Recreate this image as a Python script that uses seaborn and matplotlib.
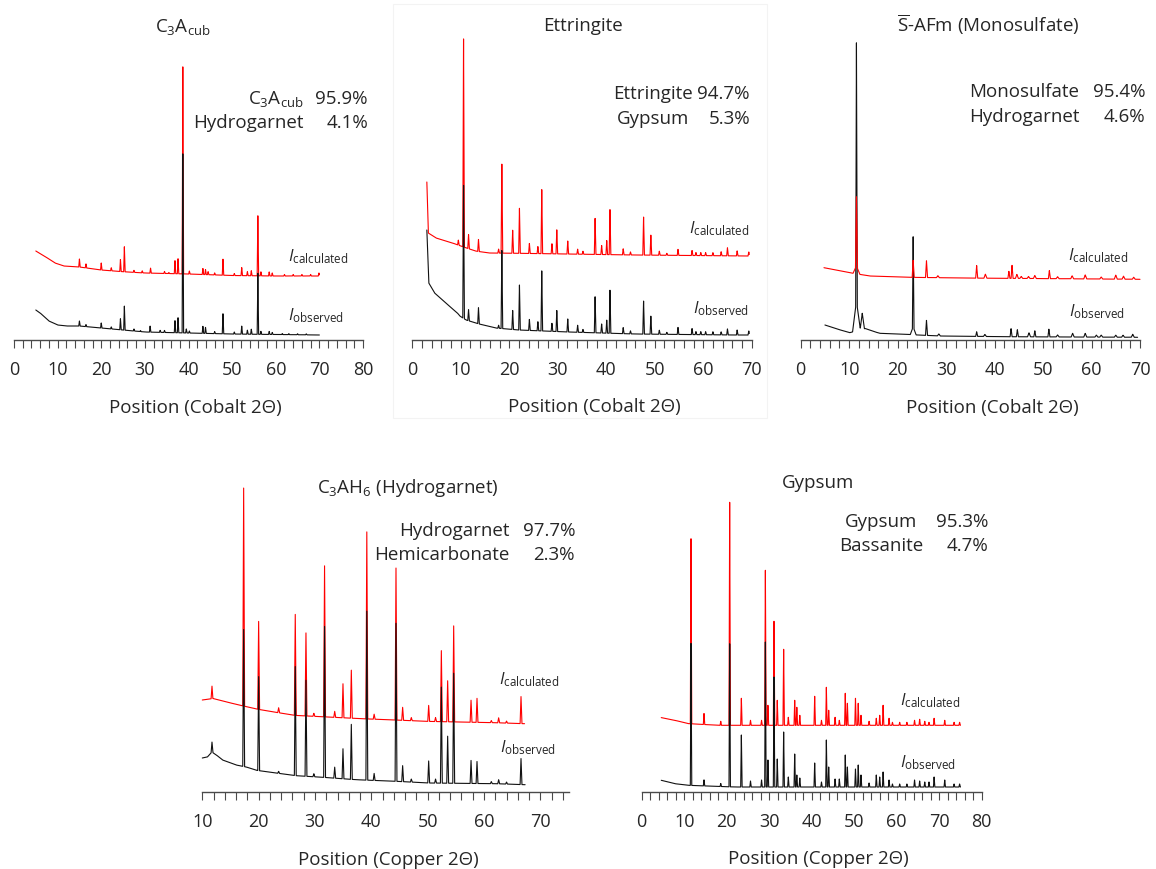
import numpy as np
import matplotlib
matplotlib.use("Agg")
import matplotlib.pyplot as plt
from matplotlib.patches import Rectangle
from matplotlib.ticker import MultipleLocator
import seaborn as sns

# ---------------------------------------------------------------------------
# Diffraction data: backgrounds (anchor points) and peak lists (position, net
# intensity) for observed and Rietveld-calculated patterns of each phase.
# ---------------------------------------------------------------------------

# C3A cubic (Cobalt)
c3a_obs_bg_x = [5, 6, 7, 8, 10, 12, 15, 20, 25, 30, 40, 50, 60, 70]
c3a_obs_bg_y = [30, 27, 23, 19, 15, 14, 14, 12, 10, 8, 7, 6, 5.5, 5]
c3a_obs_pk_x = [15.0, 16.5, 20.0, 22.3, 24.4, 25.3, 27.5, 29.0, 31.2, 33.5, 34.5, 36.9, 37.6,
                38.7, 39.5, 40.2, 43.3, 43.9, 46.0, 47.9, 50.5, 52.2, 53.5, 54.4, 55.9, 56.6,
                58.5, 59.2, 61.5, 63.0, 65.0, 67.0]
c3a_obs_pk_h = [5, 2, 5, 2, 11, 24, 2, 1, 6, 2, 2, 12, 15, 179, 4, 2, 7, 6, 2, 20, 2, 8, 4, 5,
                61, 3, 3, 2, 1, 1, 1, 1]
c3a_calc_bg_x = [5, 7.2, 9.4, 11.4, 15, 20, 25, 30, 40, 50, 60, 70]
c3a_calc_bg_y = [29, 23.3, 17, 14, 13, 10, 8.3, 7, 6, 4.5, 4, 4]
c3a_calc_pk_x = [15.0, 16.5, 20.0, 22.3, 24.4, 25.3, 27.5, 29.4, 31.3, 34.5, 35.5, 36.9, 37.6,
                 38.7, 40.2, 43.3, 43.9, 44.5, 46.0, 47.9, 50.5, 52.2, 53.5, 54.4, 55.9, 56.6,
                 58.5, 59.2, 62.0, 64.0, 66.0, 68.0, 69.9]
c3a_calc_pk_h = [8, 4, 7, 3, 12, 25, 2, 2, 5, 2, 1, 13, 15, 207, 3, 6, 5, 3, 2, 16, 2, 8, 4, 5,
                 60, 4, 4, 3, 1.5, 1.5, 1.5, 1.5, 3]

# Ettringite (Cobalt)
ett_obs_bg_x = [3.0, 3.4, 4.6, 6.9, 9.3, 9.8, 11.1, 13.8, 17.2, 22.0, 32.3, 46.0, 66.6, 69.5]
ett_obs_bg_y = [110, 57, 47, 37, 27, 24, 20, 16, 12, 10, 8, 6, 5, 5]
ett_obs_pk_x = [10.57, 11.6, 13.65, 17.8, 18.47, 20.7, 22.1, 24.15, 25.9, 26.7, 28.8, 29.8,
                32.06, 34.1, 35.2, 37.7, 39.05, 40.1, 40.77, 43.5, 45.0, 47.7, 49.2, 50.95,
                52.5, 54.8, 57.7, 58.5, 59.5, 60.5, 62.0, 63.7, 65.0, 67.0, 69.4]
ett_obs_pk_h = [133, 11, 16, 3, 78, 19, 45, 11, 9, 60, 8, 21, 13, 7, 3, 36, 9, 13, 43, 6, 3,
                33, 18, 4, 2, 7, 6, 3, 3, 3, 3, 3, 6, 5, 4]
ett_calc_bg_x = [3.0, 3.3, 4.9, 8.3, 10.0, 13.0, 15.8, 22.0, 46.0, 69.5]
ett_calc_bg_y = [78, 27, 22, 17, 14, 9, 7, 6.7, 5, 4]
ett_calc_pk_x = [9.5, 10.57, 11.6, 13.65, 17.8, 18.47, 20.7, 22.1, 24.15, 25.9, 26.7, 28.8,
                 29.8, 32.06, 34.1, 35.2, 37.7, 39.05, 40.1, 40.77, 43.5, 45.0, 47.7, 49.2,
                 50.95, 52.5, 54.8, 57.7, 58.5, 59.5, 60.5, 62.0, 63.7, 65.0, 67.0, 69.4]
ett_calc_pk_h = [5, 208, 14, 12, 4, 89, 23, 45, 10, 7, 64, 10, 24, 13, 5, 3, 36, 9, 14, 45, 6,
                 3, 38, 20, 4, 2, 6, 5, 3, 3, 3, 3, 4, 8, 5, 4]

# Monosulfate (Cobalt) - broad basal reflections carry their own widths
msf_obs_bg_x = [5.0, 7.5, 10.1, 13.3, 15.2, 16.3, 21.1, 28.7, 42.5, 69.5]
msf_obs_bg_y = [15, 11, 7.3, 11.5, 8.3, 6.7, 5.7, 4, 3.3, 2.7]
msf_obs_pk_x = [11.5, 11.5, 12.7, 23.2, 23.2, 25.95, 28.5, 36.3, 38.0, 43.4, 44.7, 47.1, 48.3,
                51.2, 53.0, 56.1, 58.7, 61.0, 62.0, 65.0, 66.5, 68.5]
msf_obs_pk_h = [258, 30, 16, 90, 8, 15, 2, 4.6, 2, 8, 7, 4, 6, 7.7, 2, 3.7, 3.7, 2, 2, 2, 2, 3]
msf_obs_pk_w = [0.16, 0.8, 0.45, 0.16, 0.6, 0.2, 0.3, 0.2, 0.3, 0.2, 0.2, 0.3, 0.2, 0.2,
                0.3, 0.3, 0.3, 0.3, 0.3, 0.3, 0.3, 0.3]
msf_calc_bg_x = [4.8, 10.1, 14.2, 22.5, 33.0, 70.0]
msf_calc_bg_y = [14.3, 9.3, 6, 4.7, 4, 2.7]
msf_calc_pk_x = [11.5, 11.5, 23.2, 25.95, 28.3, 36.3, 38.1, 42.95, 43.6, 44.6, 45.5, 47.0,
                 48.3, 51.3, 53.0, 56.0, 58.7, 62.0, 65.0, 66.6, 68.7]
msf_calc_pk_h = [69, 8, 17, 16.7, 2, 12.5, 4, 7, 13, 4, 2, 2, 3, 8, 2, 3, 4, 2, 4, 3, 2]
msf_calc_pk_w = [0.2, 0.7, 0.2, 0.2, 0.3, 0.2, 0.3, 0.2, 0.2, 0.3, 0.3, 0.3, 0.3, 0.2,
                 0.3, 0.3, 0.3, 0.3, 0.3, 0.3, 0.3]

# Hydrogarnet C3AH6 (Copper)
hgt_obs_bg_x = [10.0, 10.9, 11.7, 12.5, 13.6, 16.0, 17.8, 19.6, 23.1, 26.7, 31.4, 37.3, 44.4,
                50.3, 62.2, 67.3]
hgt_obs_bg_y = [34, 35, 40, 37, 32, 27, 25, 21.7, 19, 16.3, 14.7, 12.3, 10.7, 9, 8.3, 7.3]
hgt_pk_x = [11.72, 17.34, 20.0, 23.55, 26.5, 28.4, 29.8, 31.7, 33.5, 34.97, 36.45, 39.2, 40.5,
            44.38, 45.56, 47.1, 50.18, 51.4, 52.43, 53.55, 54.62, 57.7, 58.76, 61.3, 62.6,
            64.0, 66.57]
hgt_obs_pk_h = [10, 137, 94, 2, 109, 96, 3, 151, 11, 30, 55, 169, 7, 158, 16, 3, 22, 4, 96, 47,
                110, 23, 22, 2, 4, 2, 26]
hgt_calc_bg_x = [10.0, 11.9, 14.3, 17.3, 20.0, 23.5, 26.5, 31.2, 38.3, 44.2, 50.2, 62.0, 67.2]
hgt_calc_bg_y = [32, 33.5, 30, 26, 22.6, 19.3, 16.6, 15.3, 13.3, 12, 10.6, 9.3, 8.3]
hgt_calc_pk_h = [12.5, 218, 88, 5, 101, 83, 3, 151, 6, 34, 48, 187, 5, 152, 13, 3, 16, 4, 71,
                 41, 96, 22, 24, 2, 5, 2, 27]

# Gypsum (Copper)
gyp_pk_x = [11.6, 14.66, 18.6, 20.7, 23.45, 25.6, 28.2, 29.1, 29.7, 31.13, 31.9, 33.4, 34.5,
            36.0, 36.5, 37.2, 40.7, 42.3, 43.45, 44.0, 45.5, 46.5, 47.9, 48.4, 50.3, 50.95,
            51.6, 53.5, 55.2, 56.0, 56.8, 58.2, 59.0, 60.7, 62.4, 64.2, 65.4, 66.6, 67.6, 68.8,
            71.3, 73.5, 74.8]
gyp_obs_pk_h = [142, 6, 3, 143, 52, 6, 7, 145, 27, 110, 28, 55, 10, 33, 12, 9, 24, 5, 47, 20, 8,
                8, 32, 20, 18, 22, 12, 4, 12, 10, 15, 7, 3, 3, 3, 7, 6, 5, 5, 10, 7, 3, 3]
gyp_calc_pk_h = [185, 11, 4, 223, 27, 5, 5, 155, 20, 104, 25, 76, 8, 25, 18, 10, 29, 5, 38, 15,
                 8, 5, 32, 22, 27, 22, 10, 4, 7, 10, 20, 7, 3, 3, 3, 5, 6, 4, 3, 7, 5, 3, 3]
gyp_obs_bg_x = [4.6, 7.8, 10.9, 21.9, 75.0]
gyp_obs_bg_y = [11.7, 8.3, 6.7, 5, 5]
gyp_calc_bg_x = [4.6, 7.8, 10.9, 18.0, 75.0]
gyp_calc_bg_y = [12.4, 9.7, 6.4, 4.7, 4.7]

# Phase names, quantification results and axis titles
titles = [r"C$_3$A$_{\mathrm{cub}}$", "Ettringite", r"$\overline{\mathrm{S}}$-AFm (Monosulfate)",
          r"C$_3$AH$_6$ (Hydrogarnet)", "Gypsum"]
phase_names = [[r"C$_3$A$_{\mathrm{cub}}$", "Hydrogarnet"], ["Ettringite", "Gypsum"],
               ["Monosulfate", "Hydrogarnet"], ["Hydrogarnet", "Hemicarbonate"],
               ["Gypsum", "Bassanite"]]
phase_pct = [["95.9%", "4.1%"], ["94.7%", "5.3%"], ["95.4%", "4.6%"], ["97.7%", "2.3%"],
             ["95.3%", "4.7%"]]
xlabels = ["Position (Cobalt 2Θ)"] * 3 + ["Position (Copper 2Θ)"] * 2

# ---------------------------------------------------------------------------
sns.set_theme(style="white")
plt.rcParams["font.family"] = ["Open Sans", "DejaVu Sans"]
plt.rcParams["mathtext.fontset"] = "custom"
plt.rcParams["mathtext.rm"] = "Open Sans"
plt.rcParams["mathtext.it"] = "Open Sans:italic"
plt.rcParams["mathtext.bf"] = "Open Sans:bold"

W, H = 1156, 869
fig = plt.figure(figsize=(W / 100, H / 100), dpi=100)
fig.patch.set_facecolor("white")

TXT = "#262626"
OBS_C = "#111111"
CALC_C = "#ff0000"
PEAK_HW = 0.16


def profile(bx, by, pk_x, pk_h, pk_w=None, step=0.01):
    grid = np.arange(bx[0], bx[-1] + step / 2, step)
    y = np.interp(grid, bx, by)
    widths = np.full(len(pk_x), PEAK_HW) if pk_w is None else np.asarray(pk_w, float)
    for p, h, w in zip(pk_x, pk_h, widths):
        y = y + h * np.clip(1 - np.abs(grid - p) / w, 0, None)
    return grid, y


def ftext(xp, yp, s, ha="center", size=13.5, **kw):
    fig.text(xp / W, 1 - yp / H, s, ha=ha, va="baseline", fontsize=size, color=TXT, **kw)


panels = [
    dict(px=(14, 363), xr=(0, 80), axis_y=340, ticks=range(0, 81, 10), offset=60, calc_top=False,
         obs=(c3a_obs_bg_x, c3a_obs_bg_y, c3a_obs_pk_x, c3a_obs_pk_h, None),
         calc=(c3a_calc_bg_x, c3a_calc_bg_y, c3a_calc_pk_x, c3a_calc_pk_h, None),
         title=(183, 31.7), xlabel=(195, 413), rows=(104, 128.3),
         names=("right", 304), vals=368, icalc=(288, 261), iobs=(288, 320)),
    dict(px=(412.3, 751.7), xr=(0, 70), axis_y=340, ticks=range(0, 71, 10), offset=80,
         calc_top=False,
         obs=(ett_obs_bg_x, ett_obs_bg_y, ett_obs_pk_x, ett_obs_pk_h, None),
         calc=(ett_calc_bg_x, ett_calc_bg_y, ett_calc_pk_x, ett_calc_pk_h, None),
         title=(583, 30.7), xlabel=(594, 412), rows=(99.3, 124),
         names=("center", 653), vals=750, icalc=(689, 233), iobs=(693, 313)),
    dict(px=(800.7, 1140), xr=(0, 70), axis_y=340, ticks=range(0, 71, 10), offset=58,
         calc_top=True,
         obs=(msf_obs_bg_x, msf_obs_bg_y, msf_obs_pk_x, msf_obs_pk_h, msf_obs_pk_w),
         calc=(msf_calc_bg_x, msf_calc_bg_y, msf_calc_pk_x, msf_calc_pk_h, msf_calc_pk_w),
         title=(988, 31.7), xlabel=(992, 413), rows=(96.7, 121.7),
         names=("left", 969), vals=1145, icalc=(1068, 260), iobs=(1069, 316)),
    dict(px=(202.3, 568.5), xr=(10, 75), axis_y=792, ticks=range(10, 71, 10), offset=60,
         calc_top=False,
         obs=(hgt_obs_bg_x, hgt_obs_bg_y, hgt_pk_x, hgt_obs_pk_h, None),
         calc=(hgt_calc_bg_x, hgt_calc_bg_y, hgt_pk_x, hgt_calc_pk_h, None),
         title=(408, 492.7), xlabel=(388, 865), rows=(536, 560),
         names=("right", 510), vals=575, icalc=(499, 684), iobs=(500, 752.7)),
    dict(px=(641.7, 981.7), xr=(0, 80), axis_y=792, ticks=range(0, 81, 10), offset=62,
         calc_top=False,
         obs=(gyp_obs_bg_x, gyp_obs_bg_y, gyp_pk_x, gyp_obs_pk_h, None),
         calc=(gyp_calc_bg_x, gyp_calc_bg_y, gyp_pk_x, gyp_calc_pk_h, None),
         title=(818, 488.3), xlabel=(818, 864), rows=(527.3, 551),
         names=("center", 881), vals=988, icalc=(900, 705), iobs=(900, 767)),
]

# faint frame around the ettringite panel
fig.add_artist(Rectangle((393 / W, 1 - 418 / H), (767 - 393) / W, (418 - 4) / H,
                         transform=fig.transFigure, fill=False, ec="#f3f3f3", lw=0.8))

for i, p in enumerate(panels):
    l_px, r_px = p["px"]
    ay = p["axis_y"]
    top = ay - 320
    ax = fig.add_axes([l_px / W, 1 - ay / H, (r_px - l_px) / W, (ay - top) / H])
    ax.set_facecolor("none")

    gx, gy = profile(*p["obs"])
    cx, cy = profile(*p["calc"])
    z_obs, z_calc = (2, 3) if p["calc_top"] else (3, 2)
    sns.lineplot(x=cx, y=cy + p["offset"], ax=ax, color=CALC_C, linewidth=0.8,
                 estimator=None, sort=False, zorder=z_calc, clip_on=False)
    sns.lineplot(x=gx, y=gy, ax=ax, color=OBS_C, linewidth=0.8,
                 estimator=None, sort=False, zorder=z_obs, clip_on=False)

    ax.set_xlim(*p["xr"])
    ax.set_ylim(0, ay - top)
    ax.set_xticks(list(p["ticks"]))
    ax.xaxis.set_minor_locator(MultipleLocator(2))
    ax.set_yticks([])
    ax.set_xlabel("")
    ax.set_ylabel("")
    for s in ("top", "left", "right"):
        ax.spines[s].set_visible(False)
    ax.spines["bottom"].set_color("#4a4a4a")
    ax.spines["bottom"].set_linewidth(1.0)
    ax.tick_params(axis="x", which="both", direction="out", length=6, width=0.8,
                   color="#4a4a4a", bottom=True)
    ax.tick_params(axis="x", which="major", labelsize=13, labelcolor=TXT, pad=9)

    # titles, axis labels, phase quantification
    ftext(*p["title"], titles[i], size=13.5)
    ftext(*p["xlabel"], xlabels[i], size=13.5)
    ha, nx = p["names"]
    for row_y, name, pct in zip(p["rows"], phase_names[i], phase_pct[i]):
        ftext(nx, row_y, name, ha=ha, size=13.5)
        ftext(p["vals"], row_y, pct, ha="right", size=13.5)
    ftext(*p["icalc"], r"$I_{\mathrm{calculated}}$", ha="left", size=12)
    ftext(*p["iobs"], r"$I_{\mathrm{observed}}$", ha="left", size=12)

fig.savefig("out.png", dpi=100, facecolor="white")
